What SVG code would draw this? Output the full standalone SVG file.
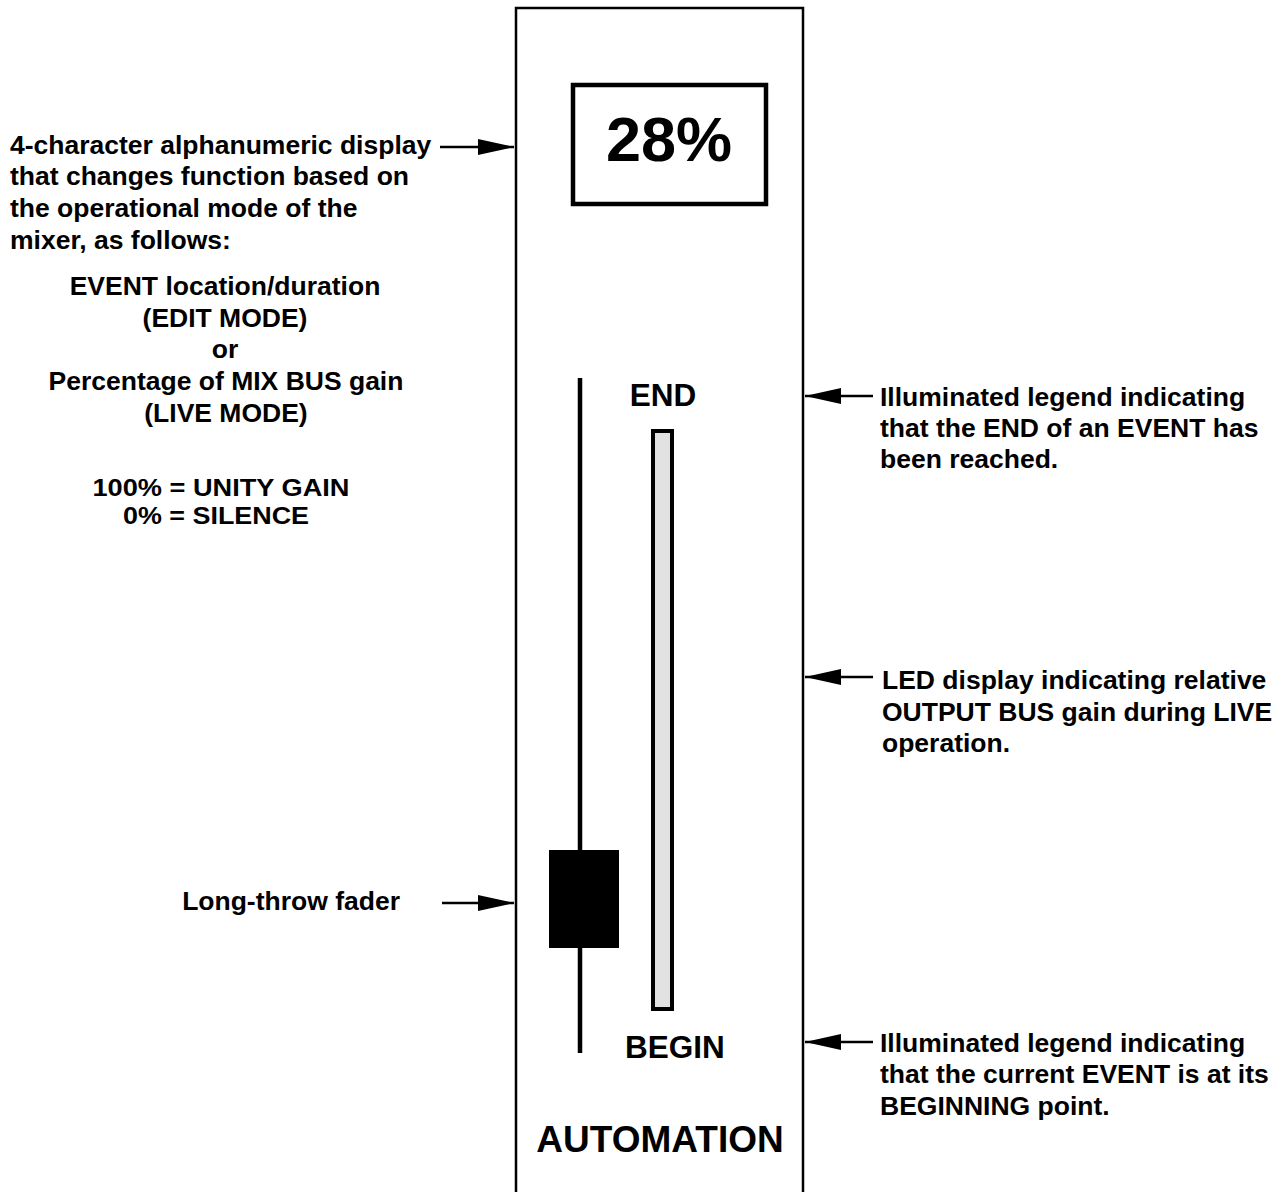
<svg xmlns="http://www.w3.org/2000/svg" width="1281" height="1192" viewBox="0 0 1281 1192">
<style>
text{font-family:"Liberation Sans",Arial,sans-serif;font-weight:bold;fill:#000}
.t{font-size:26.5px}
.s{font-size:24.5px}
.c{text-anchor:middle}
.ln{stroke:#000;stroke-width:2.5;fill:none}
</style>
<defs>
<marker id="ah" markerWidth="36" markerHeight="16" refX="36" refY="8" orient="auto" markerUnits="userSpaceOnUse">
<path d="M0,0 L36,8 L0,16 Z" fill="#000"/>
</marker>
</defs>
<rect width="1281" height="1192" fill="#fff"/>
<g id="panel">
<rect x="516" y="8" width="287" height="1200" fill="#fff" stroke="#000" stroke-width="2.5"/>
</g>
<g id="display">
<rect x="573" y="85" width="193" height="119" fill="#fff" stroke="#000" stroke-width="4.5"/>
<text x="669" y="161" class="c" font-size="63">28%</text>
</g>
<g id="fader">
<line x1="580" y1="378" x2="580" y2="1053" stroke="#000" stroke-width="4.5"/>
<rect x="549" y="850" width="70" height="98" fill="#000"/>
</g>
<g id="led">
<rect x="653" y="431" width="19" height="578" fill="#e2e2e2" stroke="#000" stroke-width="4"/>
</g>
<g id="end"><text x="663" y="406" class="c" font-size="31.5">END</text></g>
<g id="begin"><text x="675" y="1058" class="c" font-size="31.5">BEGIN</text></g>
<g id="automation"><text x="660" y="1152" class="c" font-size="37">AUTOMATION</text></g>
<g id="connectors">
<line x1="440" y1="147" x2="514" y2="147" class="ln" marker-end="url(#ah)"/>
<line x1="442" y1="903" x2="514" y2="903" class="ln" marker-end="url(#ah)"/>
<line x1="873" y1="396" x2="805" y2="396" class="ln" marker-end="url(#ah)"/>
<line x1="873" y1="677" x2="805" y2="677" class="ln" marker-end="url(#ah)"/>
<line x1="873" y1="1042" x2="805" y2="1042" class="ln" marker-end="url(#ah)"/>
</g>
<g id="label-display">
<text x="10" y="154" class="t">4-character alphanumeric display</text>
<text x="10" y="185" class="t">that changes function based on</text>
<text x="10" y="217" class="t">the operational mode of the</text>
<text x="10" y="249" class="t">mixer, as follows:</text>
<text x="225" y="295" class="t c">EVENT location/duration</text>
<text x="225" y="327" class="t c">(EDIT MODE)</text>
<text x="225" y="358" class="t c">or</text>
<text x="226" y="390" class="t c">Percentage of MIX BUS gain</text>
<text x="226" y="422" class="t c">(LIVE MODE)</text>
<text x="221" y="496" class="s c" textLength="257" lengthAdjust="spacingAndGlyphs">100% = UNITY GAIN</text>
<text x="216" y="523.5" class="s c" textLength="186" lengthAdjust="spacingAndGlyphs">0% = SILENCE</text>
</g>
<g id="label-fader"><text x="400" y="910" class="t" text-anchor="end">Long-throw fader</text></g>
<g id="label-end">
<text x="880" y="406" class="t">Illuminated legend indicating</text>
<text x="880" y="437" class="t">that the END of an EVENT has</text>
<text x="880" y="468" class="t">been reached.</text>
</g>
<g id="label-led">
<text x="882" y="689" class="t">LED display indicating relative</text>
<text x="882" y="721" class="t">OUTPUT BUS gain during LIVE</text>
<text x="882" y="752" class="t">operation.</text>
</g>
<g id="label-begin">
<text x="880" y="1052" class="t">Illuminated legend indicating</text>
<text x="880" y="1083" class="t">that the current EVENT is at its</text>
<text x="880" y="1115" class="t">BEGINNING point.</text>
</g>
</svg>
